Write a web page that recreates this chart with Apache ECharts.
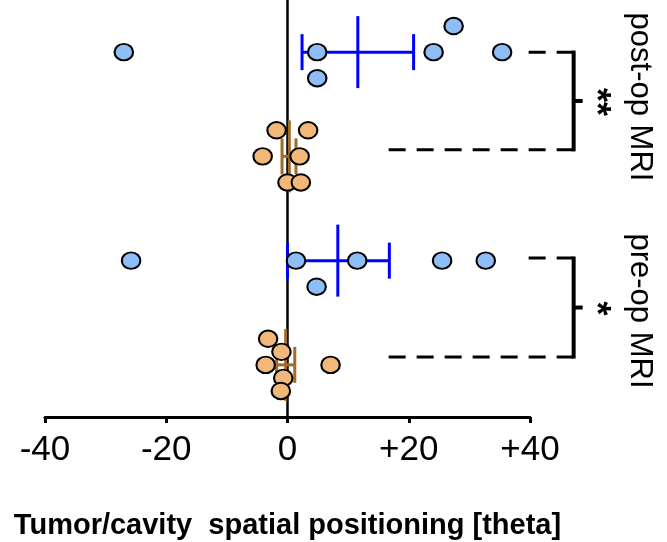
<!DOCTYPE html>
<html>
<head>
<meta charset="utf-8">
<script src="https://cdn.jsdelivr.net/npm/echarts@6/dist/echarts.min.js"></script>
<style>
  html, body { margin: 0; padding: 0; background: #fff; }
  #chart { width: 667px; height: 542px; }
</style>
</head>
<body>
<div id="chart"></div>
<script>
// dots: [theta, lane] (lane = vertical slot of the dot plot)
const postTumor = [[-27.0, 14], [4.9, 14], [4.9, 13], [24.1, 14], [27.4, 15], [35.4, 14]]
const postCavity = [[-1.8, 11], [3.4, 11], [-4.1, 10], [2.0, 10], [0.0, 9], [2.2, 9]]
const preTumor = [[-25.8, 6], [1.4, 6], [4.8, 5], [11.5, 6], [25.5, 6], [32.7, 6]]
const preCavity = [[-3.2, 3], [-1.0, 2.5], [-3.6, 2], [-0.7, 1.5], [-1.1, 1], [7.1, 2]]

// mean, low, high, lane
const tumorStats = [[11.6, 2.4, 20.8, 14], [8.3, 0.0, 16.8, 6]]
const cavityStats = [[0.3, -0.9, 1.4, 10], [-0.3, -1.8, 1.2, 2]]

// significance brackets
const groupNames = ['post-op MRI', 'pre-op MRI']
const stars = ['**', '*']
const bracketTop = [14.0, 6.1]
const bracketBottom = [10.25, 2.3]
const bracketTopStart = [39.3, 39.3]
const bracketBottomStart = [15.5, 15.5]
const bracketX = 47.2

const chart = echarts.init(document.getElementById('chart'))

const font = "'Liberation Sans', Arial, sans-serif"

// draws mean line + error bar for one row
const errorBar = (color) => (params, api) => {
  const mean = api.coord([api.value(0), api.value(3)])
  const low = api.coord([api.value(1), api.value(3)])
  const high = api.coord([api.value(2), api.value(3)])
  const style = { stroke: color, lineWidth: 3 }
  return {
    type: 'group',
    children: [
      { type: 'line', shape: { x1: low[0], y1: low[1], x2: high[0], y2: high[1] }, style },
      { type: 'line', shape: { x1: mean[0], y1: mean[1] - 36, x2: mean[0], y2: mean[1] + 36 }, style },
      { type: 'line', shape: { x1: low[0], y1: low[1] - 18, x2: low[0], y2: low[1] + 18 }, style },
      { type: 'line', shape: { x1: high[0], y1: high[1] - 18, x2: high[0], y2: high[1] + 18 }, style }
    ]
  }
}

const bracketData = stars.map((s, i) => [i, bracketTop[i], bracketBottom[i], bracketTopStart[i], bracketBottomStart[i]])

const renderBracket = (params, api) => {
  const i = api.value(0)
  const top = api.coord([bracketX, api.value(1)])
  const bot = api.coord([bracketX, api.value(2)])
  const topStart = api.coord([api.value(3), api.value(1)])
  const botStart = api.coord([api.value(4), api.value(2)])
  const midY = (top[1] + bot[1]) / 2
  const dash = { stroke: '#000', lineWidth: 3, lineDash: [17, 11] }
  const solid = { stroke: '#000', lineWidth: 4 }
  // one text per star so they sit apart like the original
  const n = stars[i].length
  const starEls = stars[i].split('').map((c, k) => ({
    type: 'text',
    x: top[0] + 21,
    y: midY + 1 + (k - (n - 1) / 2) * 14,
    rotation: -Math.PI / 2,
    style: {
      text: c,
      font: 'bold 36px ' + font,
      fill: '#000',
      align: 'center',
      verticalAlign: 'middle'
    }
  }))
  return {
    type: 'group',
    children: [
      { type: 'line', shape: { x1: top[0], y1: top[1], x2: topStart[0], y2: topStart[1] }, style: dash },
      { type: 'line', shape: { x1: bot[0], y1: bot[1], x2: botStart[0], y2: botStart[1] }, style: dash },
      { type: 'line', shape: { x1: top[0], y1: top[1] - 1.5, x2: bot[0], y2: bot[1] + 1.5 }, style: solid },
      { type: 'line', shape: { x1: top[0], y1: midY, x2: top[0] + 9, y2: midY }, style: solid }
    ].concat(starEls)
  }
}

const dotStyle = (fill) => ({
  type: 'scatter',
  symbol: 'circle',
  symbolSize: [18.5, 16.5],
  z: 5,
  itemStyle: { color: fill, borderColor: '#000', borderWidth: 2, opacity: 1 }
})

const option = {
  animation: false,
  grid: { left: 45, right: 137, top: 0, bottom: 125, outerBoundsMode: 'none', containLabel: false },
  xAxis: {
    type: 'value',
    min: -40,
    max: 40,
    interval: 20,
    splitLine: { show: false },
    axisLine: { show: true, onZero: false, lineStyle: { color: '#000', width: 3 } },
    axisTick: { show: true, length: 6, lineStyle: { color: '#000', width: 3 } },
    axisLabel: {
      color: '#000',
      fontSize: 35,
      fontFamily: font,
      margin: 16,
      formatter: (v) => (v > 0 ? '+' + v : '' + v)
    },
    name: 'Tumor/cavity  spatial positioning [theta]',
    nameLocation: 'middle',
    nameGap: 94,
    nameTextStyle: { color: '#000', fontSize: 29, fontWeight: 'bold', fontFamily: font }
  },
  yAxis: {
    type: 'value',
    min: 0,
    max: 16,
    axisLine: { show: true, onZero: true, lineStyle: { color: '#000', width: 2.5 } },
    axisTick: { show: false },
    axisLabel: { show: false },
    splitLine: { show: false }
  },
  graphic: groupNames.map((name, i) => ({
    type: 'text',
    x: 640,
    y: [97, 311][i],
    rotation: -Math.PI / 2,
    style: {
      text: name,
      font: '31px ' + font,
      fill: '#000',
      align: 'center',
      verticalAlign: 'middle'
    }
  })),
  series: [
    { type: 'custom', renderItem: errorBar('#0000FF'), data: tumorStats, z: 3, clip: false },
    { type: 'custom', renderItem: errorBar('#A06A28'), data: cavityStats, z: 3, clip: false },
    { ...dotStyle('#8EBEF6'), data: postTumor },
    { ...dotStyle('#F2B87A'), data: postCavity },
    { ...dotStyle('#8EBEF6'), data: preTumor },
    { ...dotStyle('#F2B87A'), data: preCavity },
    { type: 'custom', renderItem: renderBracket, data: bracketData, z: 4, clip: false }
  ]
}

chart.setOption(option)
</script>
</body>
</html>
